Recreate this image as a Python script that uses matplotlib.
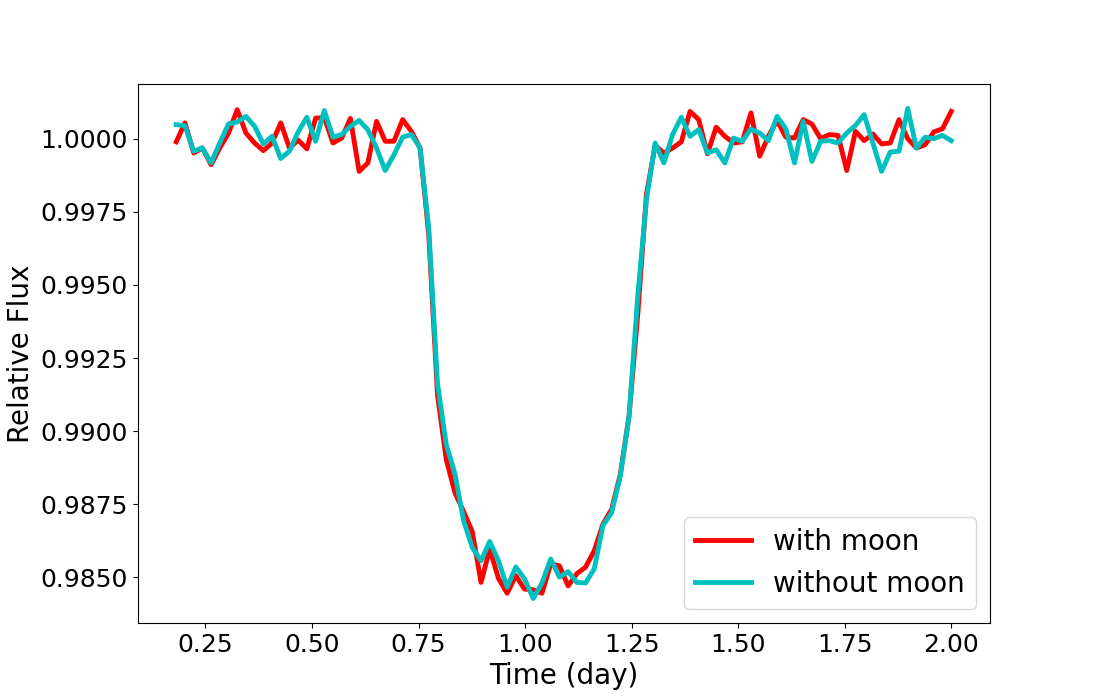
import numpy as np
import matplotlib
matplotlib.use('Agg')
import matplotlib.pyplot as plt

# tiempo (dias), cadencia ~29.4 min
time = np.linspace(0.1814, 2.0, 90)

# flujo relativo con luna
flux_moon = [
    0.99989, 1.00054, 0.99951, 0.99968, 0.99911, 0.99968, 1.00019, 1.00099, 1.00019, 0.99985,
    0.99959, 0.99985, 1.00054, 0.99968, 0.99995, 0.99965, 1.00070, 1.00072, 0.99985, 1.00002,
    1.00069, 0.99888, 0.99917, 1.00059, 0.99991, 0.99991, 1.00065, 1.00025, 0.99968, 0.99670,
    0.99125, 0.98904, 0.98790, 0.98725, 0.98656, 0.98483, 0.98597, 0.98497, 0.98446, 0.98506,
    0.98460, 0.98458, 0.98446, 0.98546, 0.98540, 0.98471, 0.98513, 0.98535, 0.98591, 0.98682,
    0.98733, 0.98853, 0.99052, 0.99400, 0.99810, 0.99977, 0.99950, 0.99968, 0.99989, 1.00093,
    1.00065, 0.99948, 1.00039, 1.00008, 0.99985, 0.99989, 1.00088, 0.99940, 1.00008, 1.00062,
    1.00005, 1.00002, 1.00065, 1.00050, 1.00000, 1.00014, 1.00011, 0.99891, 1.00025, 0.99993,
    1.00016, 0.99982, 0.99985, 1.00065, 1.00000, 0.99968, 0.99979, 1.00023, 1.00034, 1.00093,
]

# flujo relativo sin luna
flux_nomoon = [
    1.00048, 1.00044, 0.99957, 0.99968, 0.99917, 0.99985, 1.00050, 1.00057, 1.00076, 1.00042,
    0.99982, 1.00008, 0.99932, 0.99957, 1.00023, 1.00073, 0.99991, 1.00096, 1.00005, 1.00014,
    1.00042, 1.00062, 1.00031, 0.99968, 0.99891, 0.99945, 1.00005, 1.00014, 0.99968, 0.99692,
    0.99163, 0.98955, 0.98855, 0.98694, 0.98602, 0.98557, 0.98623, 0.98557, 0.98467, 0.98536,
    0.98495, 0.98428, 0.98481, 0.98563, 0.98501, 0.98520, 0.98483, 0.98481, 0.98529, 0.98677,
    0.98722, 0.98847, 0.99052, 0.99462, 0.99792, 0.99985, 0.99917, 1.00014, 1.00073, 1.00008,
    1.00031, 0.99951, 0.99962, 0.99917, 1.00002, 0.99991, 1.00033, 1.00019, 0.99993, 1.00076,
    1.00034, 0.99917, 1.00059, 0.99922, 0.99991, 0.99993, 0.99985, 1.00019, 1.00045, 1.00082,
    0.99985, 0.99888, 0.99954, 0.99957, 1.00103, 0.99968, 1.00005, 1.00000, 1.00011, 0.99993,
]

fig = plt.figure(figsize=(11, 7), dpi=100)
plt.plot(time, flux_moon, 'r', linewidth=3.5, label='with moon')
plt.plot(time, flux_nomoon, 'c', linewidth=3.5, label='without moon')

plt.xlabel('Time (day)', fontsize=20)
plt.ylabel('Relative Flux', fontsize=20)
plt.xticks(fontsize=18)
plt.yticks(fontsize=18)
plt.legend(loc='lower right', fontsize=20)

plt.savefig('out.png', dpi=100)
